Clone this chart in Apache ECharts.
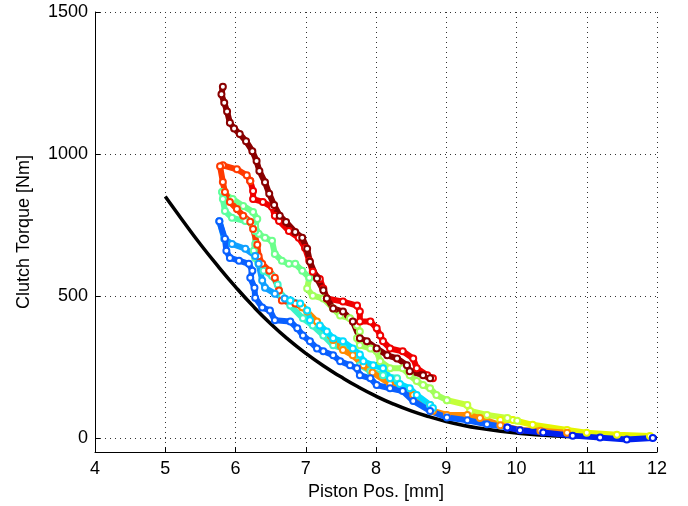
<!DOCTYPE html>
<html>
<head>
<meta charset="utf-8">
<script src="https://cdn.jsdelivr.net/npm/echarts@6/dist/echarts.min.js"></script>
<style>
  html, body { margin: 0; padding: 0; background: #fff; }
  #chart { width: 688px; height: 506px; }
</style>
</head>
<body>
<div id="chart"></div>
<script>
// Axis ticks
const xTicks = [4, 5, 6, 7, 8, 9, 10, 11, 12];
const yTicks = [0, 500, 1000, 1500];

// Reference model curve: clutch torque vs piston position
const modelCurve = [
  [5.0, 850], [5.25, 765], [5.5, 682], [5.75, 605], [6.0, 532], [6.25, 464],
  [6.5, 402], [6.75, 347], [7.0, 298], [7.25, 254], [7.5, 215], [7.75, 179],
  [8.0, 147], [8.25, 119], [8.5, 95], [8.75, 75], [9.0, 58], [9.25, 44],
  [9.5, 33], [9.75, 24], [10.0, 17], [10.5, 8], [11.0, 3], [11.5, 0.6], [12.0, 0]
];

// Measured runs (piston pos [mm], torque [Nm])
const runDarkRed = [
  [5.82, 1237], [5.80, 1210], [5.84, 1180], [5.88, 1150], [5.92, 1110], [5.98, 1090],
  [6.06, 1070], [6.15, 1045], [6.24, 1010], [6.30, 975], [6.34, 940], [6.42, 900],
  [6.48, 860], [6.55, 820], [6.63, 782], [6.72, 760], [6.85, 725], [6.95, 705],
  [7.02, 666], [7.06, 620], [7.16, 561], [7.25, 520], [7.30, 491], [7.39, 456],
  [7.53, 445], [7.67, 410], [7.77, 351], [7.87, 340], [8.01, 315], [8.16, 291],
  [8.30, 280], [8.44, 256], [8.48, 235], [8.67, 221], [8.77, 210]
];
const runRed = [
  [6.21, 905], [6.25, 870], [6.25, 841], [6.39, 831], [6.52, 813], [6.56, 782],
  [6.62, 764], [6.76, 729], [6.90, 705], [6.99, 669], [7.05, 624], [7.10, 585],
  [7.20, 560], [7.25, 526], [7.30, 491], [7.53, 480], [7.73, 466], [7.77, 445],
  [7.77, 410], [7.92, 410], [8.01, 386], [8.06, 361], [8.10, 340], [8.20, 315],
  [8.38, 305], [8.53, 280], [8.58, 245], [8.73, 221], [8.81, 210]
];
const runOrangeRed = [
  [6.21, 905], [6.16, 925], [6.02, 946], [5.82, 960], [5.78, 957], [5.82, 901],
  [5.85, 866], [5.92, 831], [6.02, 806], [6.11, 782], [6.21, 761], [6.25, 736],
  [6.31, 680], [6.33, 640], [6.38, 613], [6.48, 589], [6.56, 564], [6.62, 519],
  [6.66, 484], [6.85, 473], [6.95, 460]
];
const runOrange = [
  [6.95, 460], [7.02, 445], [7.16, 410], [7.39, 345], [7.53, 310], [7.67, 291],
  [7.82, 256], [7.95, 230], [8.20, 190], [8.53, 151], [8.77, 116], [8.81, 95],
  [9.01, 81], [9.30, 81], [9.48, 70], [9.77, 45], [10.05, 28], [10.34, 25], [10.72, 18]
];
const runGreen = [
  [5.81, 866], [5.96, 841], [6.11, 817], [6.25, 796], [6.31, 771], [6.28, 745],
  [6.33, 719], [6.42, 705], [6.52, 694], [6.56, 648], [6.66, 624], [6.76, 613],
  [6.85, 613], [6.95, 589], [7.05, 564]
];
const runLightGreen = [
  [7.05, 564], [7.02, 526], [7.10, 501], [7.25, 491], [7.39, 456], [7.49, 431],
  [7.63, 421], [7.73, 396], [7.77, 375], [7.73, 351], [7.77, 326], [7.92, 315],
  [8.01, 305], [8.06, 270], [8.20, 245], [8.38, 245], [8.48, 221], [8.58, 200],
  [8.67, 186], [8.77, 175], [8.86, 151], [9.01, 133]
];
const runLime = [
  [9.01, 133], [9.30, 116], [9.34, 95], [9.58, 81], [9.87, 70], [10.01, 60]
];
const runYellow = [
  [9.77, 63], [9.95, 63], [10.23, 46], [10.72, 28], [11.00, 18], [11.43, 11], [11.90, 7]
];
const runSpring = [
  [5.81, 866], [5.82, 841], [5.85, 799], [5.95, 775], [6.14, 764], [6.24, 754],
  [6.28, 729], [6.28, 683], [6.26, 659], [6.28, 634], [6.33, 613]
];
const runAqua = [
  [6.33, 613], [6.40, 589], [6.52, 570], [6.60, 540], [6.66, 500], [6.78, 466],
  [6.96, 421], [7.10, 396], [7.25, 361], [7.39, 326], [7.53, 315], [7.73, 291],
  [7.77, 256], [7.92, 235], [8.10, 221], [8.30, 210]
];
const runLightBlue = [
  [5.77, 763], [5.84, 701], [5.95, 683], [6.14, 666], [6.28, 641], [6.33, 613],
  [6.38, 554], [6.42, 529], [6.56, 508], [6.70, 491], [6.78, 484]
];
const runCyan = [
  [6.78, 484], [6.92, 473], [7.02, 449], [7.06, 414], [7.20, 396], [7.30, 375],
  [7.39, 351], [7.53, 340], [7.67, 315], [7.77, 294], [7.82, 270], [7.96, 256],
  [8.10, 245], [8.20, 210], [8.34, 190], [8.48, 175], [8.58, 151], [8.77, 116],
  [8.81, 105]
];
const runBlue = [
  [5.77, 763], [5.85, 701], [5.87, 659], [5.92, 634], [6.05, 624], [6.19, 613],
  [6.24, 589], [6.21, 564], [6.27, 529], [6.28, 494], [6.38, 459], [6.49, 449],
  [6.56, 414], [6.78, 410], [6.88, 386], [6.96, 361], [7.06, 340], [7.16, 315],
  [7.25, 305], [7.39, 291], [7.49, 270], [7.63, 256], [7.73, 245], [7.77, 221],
  [7.92, 210], [8.01, 186], [8.20, 175], [8.38, 165], [8.53, 130], [8.77, 95],
  [9.01, 72], [9.30, 62], [9.58, 48], [9.87, 37]
];
const runDarkBlue = [
  [9.87, 37], [10.05, 27], [10.38, 19], [10.80, 8], [11.19, 1], [11.57, -6], [11.94, 0]
];

const runs = [
  { data: runYellow, color: '#e6f500' },
  { data: runLime, color: '#c4ff3a' },
  { data: runLightGreen, color: '#a2ff5c' },
  { data: runGreen, color: '#6cff8c' },
  { data: runSpring, color: '#5cffa0' },
  { data: runAqua, color: '#3cf4c8' },
  { data: runRed, color: '#f00000' },
  { data: runDarkRed, color: '#8a0000' },
  { data: runOrangeRed, color: '#ff3a00' },
  { data: runOrange, color: '#ff8a00' },
  { data: runLightBlue, color: '#10a0ff' },
  { data: runCyan, color: '#00dcff' },
  { data: runBlue, color: '#0a60ff' },
  { data: runDarkBlue, color: '#0020f0' }
];

const font = '"Liberation Sans", Arial, Helvetica, sans-serif';
const gridLine = { show: true, lineStyle: { color: '#333', width: 1, type: [1, 4] } };

const series = [{
  type: 'line',
  data: modelCurve,
  showSymbol: false,
  smooth: true,
  lineStyle: { color: '#000', width: 3.5 },
  z: 2
}].concat(runs.map(r => ({
  type: 'line',
  data: r.data,
  symbol: 'emptyCircle',
  symbolSize: 6,
  showAllSymbol: true,
  itemStyle: { color: r.color, borderWidth: 2 },
  lineStyle: { color: r.color, width: 6 },
  z: 3
})));

const chart = echarts.init(document.getElementById('chart'), null, { renderer: 'canvas' });
chart.setOption({
  animation: false,
  backgroundColor: '#fff',
  grid: { left: 95, right: 31, top: 12, bottom: 52 },
  xAxis: {
    type: 'value', min: 4, max: 12, interval: 1,
    name: 'Piston Pos. [mm]', nameLocation: 'middle', nameGap: 30,
    nameTextStyle: { fontFamily: font, fontSize: 18, color: '#000' },
    axisLine: { show: true, onZero: false, lineStyle: { color: '#000', width: 1 } },
    axisTick: { show: true, inside: true, length: 5, lineStyle: { color: '#000' } },
    axisLabel: { fontFamily: font, fontSize: 18, color: '#000', margin: 8,
      customValues: xTicks },
    splitLine: gridLine
  },
  yAxis: {
    type: 'value', min: -50, max: 1500,
    name: 'Clutch Torque [Nm]', nameLocation: 'middle', nameGap: 62,
    nameTextStyle: { fontFamily: font, fontSize: 18, color: '#000' },
    axisLine: { show: true, onZero: false, lineStyle: { color: '#000', width: 1 } },
    axisTick: { show: true, inside: true, length: 5, lineStyle: { color: '#000' },
      customValues: yTicks },
    axisLabel: { fontFamily: font, fontSize: 18, color: '#000', margin: 7,
      customValues: yTicks, formatter: v => String(v) },
    splitLine: gridLine
  },
  series: series
});
</script>
</body>
</html>
